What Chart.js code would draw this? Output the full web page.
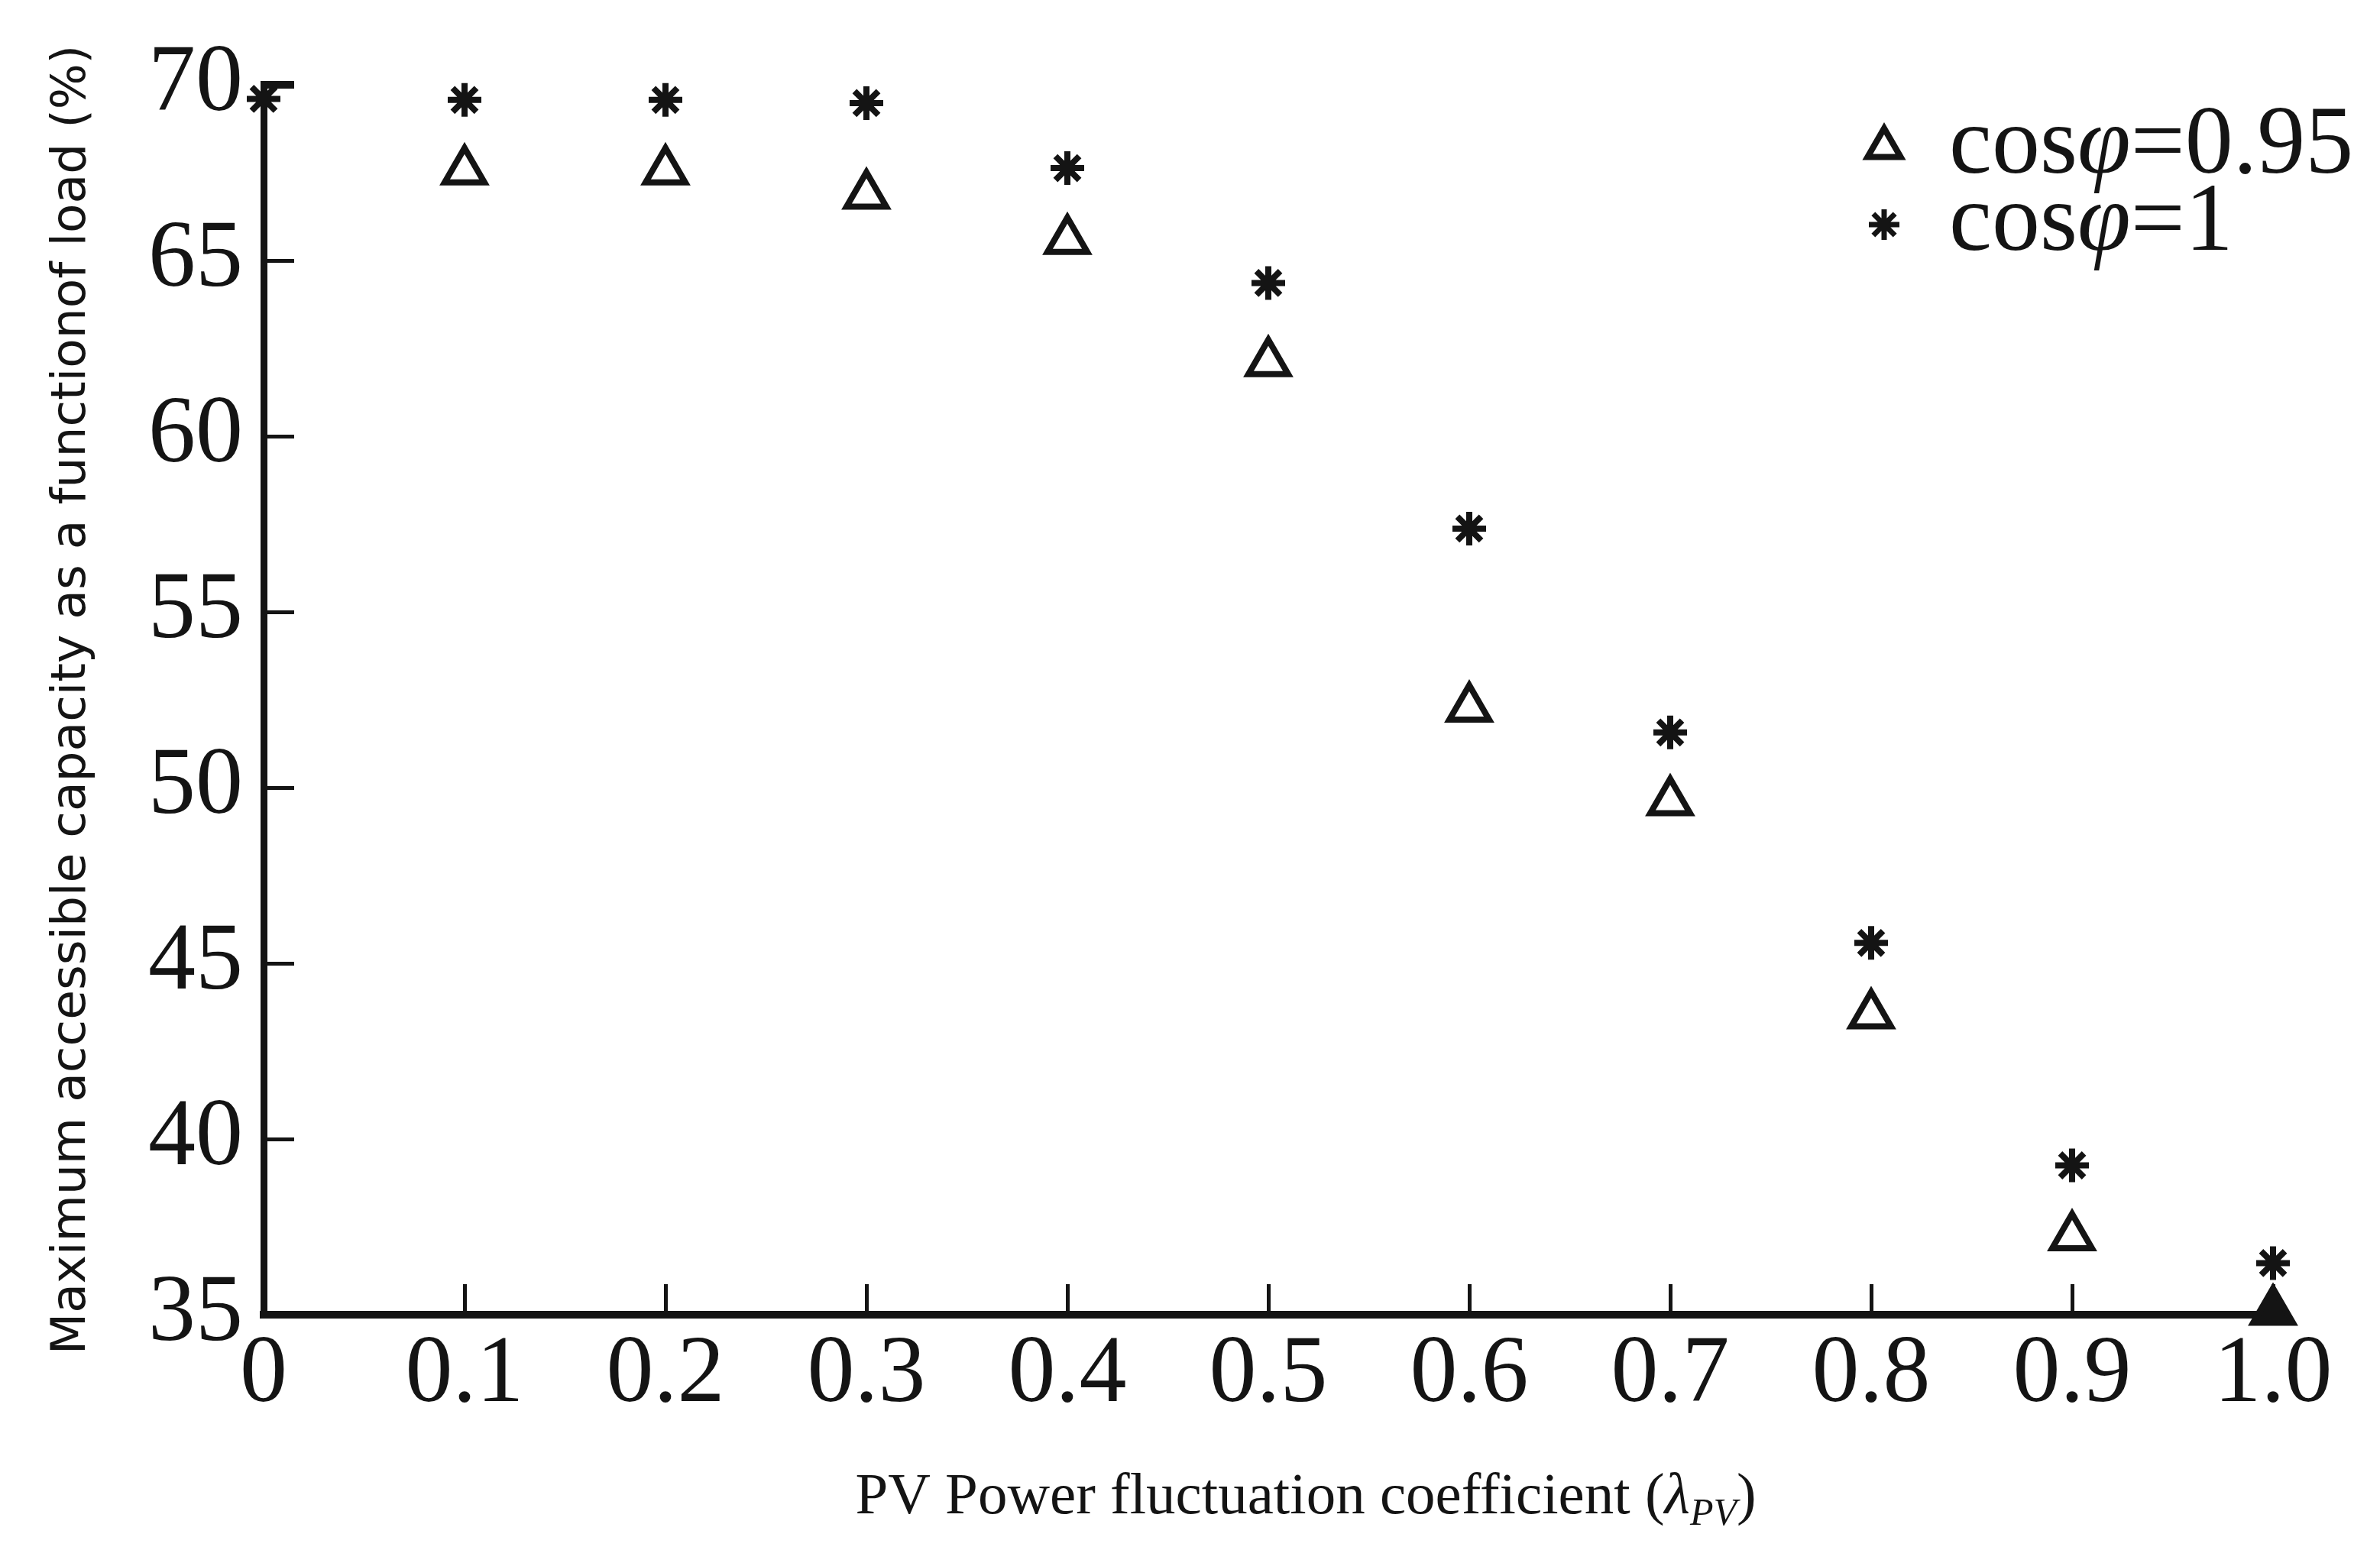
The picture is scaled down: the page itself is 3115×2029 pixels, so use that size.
<!DOCTYPE html>
<html>
<head>
<meta charset="utf-8">
<script src="https://cdn.jsdelivr.net/npm/chart.js@4.4.1/dist/chart.umd.min.js"></script>
<style>
  html, body { margin: 0; padding: 0; background: #fff; }
</style>
</head>
<body>
<canvas id="chart" width="3115" height="2029"></canvas>
<script>
// PV power fluctuation coefficient and max accessible capacity (%) for both power factors
const lambdaPV = [0, 0.1, 0.2, 0.3, 0.4, 0.5, 0.6, 0.7, 0.8, 0.9, 1.0];
const capacityPF095 = [null, 67.55, 67.55, 66.86, 65.57, 62.09, 52.26, 49.6, 43.53, 37.22, 35.1];
const capacityPF1 = [69.6, 69.57, 69.57, 69.48, 67.63, 64.36, 57.37, 51.57, 45.58, 39.25, 36.47];
const xTicks = [0, 0.1, 0.2, 0.3, 0.4, 0.5, 0.6, 0.7, 0.8, 0.9, 1.0];
const yTicks = [35, 40, 45, 50, 55, 60, 65, 70];
const seriesLabels = ['cosφ=0.95', 'cosφ=1'];

const INK = '#141414';
const SERIF = '"Liberation Serif", "Times New Roman", serif';

function toPoints(values) {
    const pts = [];
    values.forEach((v, i) => {
        if (v !== null) pts.push({ x: lambdaPV[i], y: v });
    });
    return pts;
}

// x axis title with italic lambda and subscript PV
const xTitlePlugin = {
    id: 'xTitle',
    afterDraw(chart) {
        const ctx = chart.ctx;
        const area = chart.chartArea;
        const parts = [
            { t: 'PV Power fluctuation coefficient (', font: '77px ' + SERIF, dy: 0 },
            { t: 'λ', font: 'italic 77px ' + SERIF, dy: 0 },
            { t: 'PV', font: 'italic 50px ' + SERIF, dy: 15 },
            { t: ')', font: '77px ' + SERIF, dy: 0 }
        ];
        ctx.save();
        let total = 0;
        parts.forEach(p => { ctx.font = p.font; p.w = ctx.measureText(p.t).width; total += p.w; });
        let x = (area.left + area.right) / 2 + 49 - total / 2;
        const baseline = area.bottom + 260;
        ctx.fillStyle = INK;
        ctx.textBaseline = 'alphabetic';
        ctx.textAlign = 'left';
        parts.forEach(p => {
            ctx.font = p.font;
            ctx.fillText(p.t, x, baseline + p.dy);
            x += p.w;
        });
        ctx.restore();
    }
};

// legend in the top right corner, phi drawn in italic
const legendPlugin = {
    id: 'cornerLegend',
    afterDraw(chart) {
        const ctx = chart.ctx;
        const area = chart.chartArea;
        const markerX = area.right - 509;
        const textX = area.right - 424;
        const rows = [area.top + 82, area.top + 183];
        const styles = [
            { pointStyle: 'triangle', radius: 25, borderWidth: 8, rotation: 0 },
            { pointStyle: 'star', radius: 20, borderWidth: 7, rotation: 0 }
        ];
        ctx.save();
        seriesLabels.forEach((label, i) => {
            const y = rows[i];
            ctx.strokeStyle = INK;
            ctx.fillStyle = '#fff';
            ctx.lineWidth = styles[i].borderWidth;
            Chart.helpers.drawPoint(ctx, styles[i], markerX, y);

            const [pre, post] = label.split('φ');
            ctx.fillStyle = INK;
            ctx.textBaseline = 'middle';
            ctx.textAlign = 'left';
            let x = textX;
            ctx.font = '126px ' + SERIF;
            ctx.fillText(pre, x, y);
            x += ctx.measureText(pre).width;
            ctx.font = 'italic 126px ' + SERIF;
            ctx.fillText('φ', x, y);
            x += ctx.measureText('φ').width;
            ctx.font = '126px ' + SERIF;
            ctx.fillText(post, x, y);
        });
        ctx.restore();
    }
};

const ctx = document.getElementById('chart').getContext('2d');
const chart = new Chart(ctx, {
    type: 'scatter',
    data: {
        datasets: [{
            label: seriesLabels[0],
            data: toPoints(capacityPF095),
            pointStyle: 'triangle',
            pointRadius: 30,
            pointBorderWidth: 8,
            pointBorderColor: INK,
            pointBackgroundColor: c => c.dataIndex === c.dataset.data.length - 1 ? INK : '#fff',
            clip: false
        }, {
            label: seriesLabels[1],
            data: toPoints(capacityPF1),
            pointStyle: 'star',
            pointRadius: 22,
            pointBorderWidth: 8,
            pointBorderColor: INK,
            clip: false
        }]
    },
    options: {
        responsive: false,
        animation: false,
        devicePixelRatio: 1,
        layout: { autoPadding: false, padding: { left: 0, right: 140, top: 111, bottom: 0 } },
        plugins: {
            legend: { display: false },
            tooltip: { enabled: false }
        },
        scales: {
            x: {
                type: 'linear',
                min: 0,
                max: 1,
                afterBuildTicks: s => { s.ticks = xTicks.map(v => ({ value: v })); },
                afterFit: s => { s.height = 308; s.paddingLeft = 0; s.paddingRight = 0; },
                border: { display: true, color: INK, width: 10 },
                grid: { drawOnChartArea: false, drawTicks: true, tickLength: -40, color: INK, lineWidth: 5 },
                ticks: {
                    padding: 46,
                    color: INK,
                    font: { family: SERIF, size: 124 },
                    maxRotation: 0,
                    autoSkip: false,
                    callback: v => v === 0 ? '0' : v.toFixed(1)
                }
            },
            y: {
                type: 'linear',
                min: 35,
                max: 70,
                afterBuildTicks: s => { s.ticks = yTicks.map(v => ({ value: v })); },
                afterFit: s => { s.width = 345; s.paddingTop = 0; s.paddingBottom = 0; },
                border: { display: true, color: INK, width: 9 },
                grid: {
                    drawOnChartArea: false, drawTicks: true, tickLength: -40, color: INK,
                    lineWidth: c => (c.tick && c.tick.value === 70) ? 10 : 5
                },
                ticks: {
                    padding: 67,
                    color: INK,
                    font: { family: SERIF, size: 124 },
                    autoSkip: false,
                    callback: v => String(v)
                },
                title: {
                    display: true,
                    text: 'Maximum accessible capacity as a functionof load (%)',
                    color: INK,
                    font: { family: '"DejaVu Sans", sans-serif', size: 63 },
                    padding: { top: 57, bottom: 0 }
                }
            }
        }
    },
    plugins: [xTitlePlugin, legendPlugin]
});
</script>
</body>
</html>
